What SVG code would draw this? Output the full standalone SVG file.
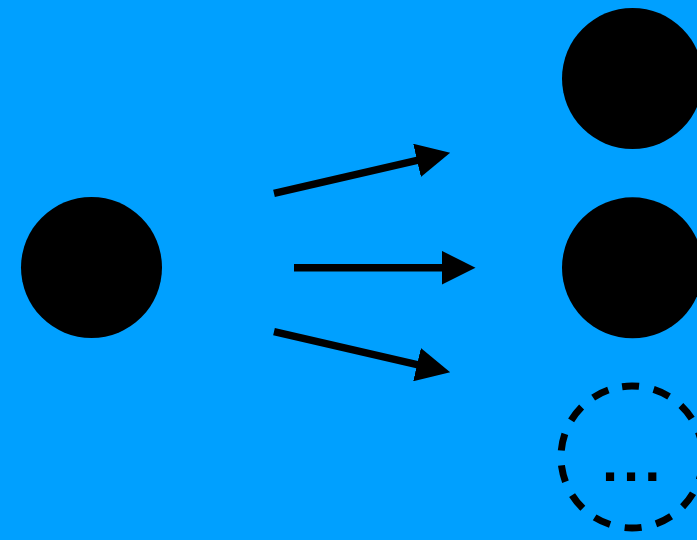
<svg xmlns="http://www.w3.org/2000/svg" width="697" height="540" viewBox="0 0 697 540">
<style>
.node{fill:#000}
.dashed{fill:none;stroke:#000;stroke-width:7;stroke-dasharray:17 14.86}
.edge{stroke:#000;stroke-width:7.5;fill:none;marker-end:url(#ah)}
.ell{font-family:"Liberation Sans",Arial,sans-serif;font-weight:bold;font-size:58px;fill:#000}
</style>
<defs>
<marker id="ah" markerUnits="userSpaceOnUse" markerWidth="34" markerHeight="34" refX="9" refY="17" orient="auto" viewBox="0 0 34 34">
<path d="M0,0 L34,17 L0,34 z" fill="#000"/>
</marker>
</defs>
<rect width="697" height="540" fill="#00A0FF"/>
<g id="source"><circle class="node" cx="91.5" cy="267.5" r="70.5"/></g>
<g id="target1"><circle class="node" cx="632.5" cy="78.5" r="70.5"/></g>
<g id="target2"><circle class="node" cx="632.5" cy="267.8" r="70.5"/></g>
<g id="target3"><circle class="dashed" cx="632" cy="457" r="71" transform="rotate(-98 632 457)"/><text class="ell" x="602" y="481" letter-spacing="5">...</text></g>
<g id="connectors">
<line class="edge" x1="274" y1="193.3" x2="425.8" y2="158.3"/>
<line class="edge" x1="294" y1="267.7" x2="450.5" y2="267.7"/>
<line class="edge" x1="274" y1="331.7" x2="425.8" y2="366.7"/>
</g>
</svg>
